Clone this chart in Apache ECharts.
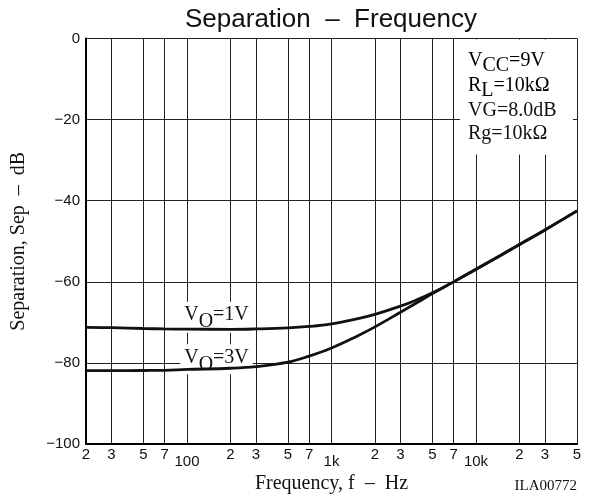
<!DOCTYPE html>
<html>
<head>
<meta charset="utf-8">
<script src="https://cdn.jsdelivr.net/npm/echarts@6/dist/echarts.min.js"></script>
<style>html,body{margin:0;padding:0;background:#fff}#c{width:591px;height:499px}</style>
</head>
<body>
<div id="c"></div>
<script>
// ---- data ----
const freqHz = [20, 30, 50, 70, 100, 200, 300, 500, 700, 1000, 1500, 2000, 3000, 4000, 5000, 7000, 10000, 20000, 30000, 50000];
const sepVo1V = [-71.2, -71.3, -71.5, -71.6, -71.65, -71.7, -71.6, -71.35, -71.0, -70.35, -69.1, -68.0, -66.0, -64.25, -62.7, -60.0, -56.9, -50.8, -47.2, -42.5];
const sepVo3V = [-81.9, -81.9, -81.85, -81.8, -81.6, -81.3, -80.9, -79.8, -78.3, -76.3, -73.4, -71.1, -67.5, -64.9, -62.9, -60.0, -56.9, -50.8, -47.2, -42.5];
const xTickHz = [20, 30, 50, 70, 100, 200, 300, 500, 700, 1000, 2000, 3000, 5000, 7000, 10000, 20000, 30000, 50000];
const xTickText = ['2', '3', '5', '7', '100', '2', '3', '5', '7', '1k', '2', '3', '5', '7', '10k', '2', '3', '5'];
const decadeTicks = [100, 1000, 10000];
const yMin = -100, yMax = 0, yStep = 20;
const labelVo1V = { hz: 160, db: -68.7 };
const labelVo3V = { hz: 160, db: -79.1 };

const lg = v => Math.log10(v);
const toXY = (fs, ys) => fs.map((f, i) => [lg(f), ys[i]]);
const tickLog = xTickHz.map(lg);

const serif = 'Liberation Serif';
const sans = 'Liberation Sans';
const ink = '#111';

const voRich = {
  n: { fontFamily: serif, fontSize: 20, color: ink, verticalAlign: 'top' },
  s: { fontFamily: serif, fontSize: 20, color: ink, verticalAlign: 'top', padding: [7, 0, 0, 0] }
};
const boxRich = {
  n: { fontFamily: serif, fontSize: 20, color: ink, verticalAlign: 'top' },
  s: { fontFamily: serif, fontSize: 20, color: ink, verticalAlign: 'top', padding: [5, 0, 0, 0] }
};

const chart = echarts.init(document.getElementById('c'), null, { renderer: 'canvas' });
chart.setOption({
  animation: false,
  backgroundColor: '#fff',
  title: {
    text: 'Separation  \u2013  Frequency',
    left: 185, top: 7, padding: 0,
    textStyle: { fontFamily: sans, fontSize: 26, fontWeight: 'normal', color: ink }
  },
  grid: { left: 86, right: 14, top: 38.5, bottom: 52.3, containLabel: false },
  xAxis: {
    type: 'value',
    min: lg(20), max: lg(50000),
    name: 'Frequency, f  \u2013  Hz',
    nameLocation: 'middle', nameGap: 27,
    nameTextStyle: { fontFamily: serif, fontSize: 20, color: ink },
    axisLine: { show: true, onZero: false, lineStyle: { color: '#000', width: 2 } },
    axisTick: { show: false, customValues: tickLog },
    axisLabel: {
      customValues: tickLog,
      margin: 3,
      fontFamily: sans, fontSize: 15, color: ink,
      formatter: function (v) {
        let best = 0, bd = 1e9;
        for (let i = 0; i < xTickHz.length; i++) {
          const d = Math.abs(lg(xTickHz[i]) - v);
          if (d < bd) { bd = d; best = i; }
        }
        const t = xTickText[best];
        return decadeTicks.indexOf(xTickHz[best]) >= 0 ? '{d|' + t + '}' : t;
      },
      rich: { d: { fontFamily: sans, fontSize: 15, color: ink, padding: [7, 0, 0, 0] } }
    },
    splitLine: { show: true, lineStyle: { color: '#222', width: 1 } }
  },
  yAxis: {
    type: 'value',
    min: yMin, max: yMax, interval: yStep,
    name: 'Separation, Sep  \u2013  dB',
    nameLocation: 'middle', nameGap: 57, nameRotate: 90,
    nameTextStyle: { fontFamily: serif, fontSize: 20, color: ink },
    axisLine: { show: true, lineStyle: { color: '#000', width: 2 } },
    axisTick: { show: false },
    axisLabel: {
      margin: 6, fontFamily: sans, fontSize: 15, color: ink,
      formatter: v => String(v).replace('-', '\u2212')
    },
    splitLine: { show: true, lineStyle: { color: '#222', width: 1 } }
  },
  graphic: [
    { type: 'rect', z: 10, shape: { x: 460, y: 39.5, width: 113, height: 115 }, style: { fill: '#fff' } },
    { type: 'text', z: 11, style: { x: 468, y: 51, text: '{n|V}{s|CC}{n|=9V}', verticalAlign: 'top', rich: boxRich } },
    { type: 'text', z: 11, style: { x: 468, y: 75.5, text: '{n|R}{s|L}{n|=10k\u03A9}', verticalAlign: 'top', rich: boxRich } },
    { type: 'text', z: 11, style: { x: 468, y: 100.5, text: 'VG=8.0dB', verticalAlign: 'top', font: '20px "Liberation Serif"', fill: ink } },
    { type: 'text', z: 11, style: { x: 468, y: 124, text: 'Rg=10k\u03A9', verticalAlign: 'top', font: '20px "Liberation Serif"', fill: ink } },
    { type: 'text', z: 11, style: { x: 577, y: 486, text: 'ILA00772', align: 'right', verticalAlign: 'middle', font: '15px "Liberation Serif"', fill: ink } }
  ],
  series: [
    {
      type: 'scatter', z: 2, symbolSize: 1, itemStyle: { color: '#fff', opacity: 1 },
      data: [[lg(labelVo1V.hz), labelVo1V.db]],
      label: { show: true, position: 'inside', color: ink, opacity: 1, formatter: '{n|V}{s|O}{n|=1V}', backgroundColor: '#fff', padding: [3, 4, 1, 4], rich: voRich }
    },
    {
      type: 'scatter', z: 2, symbolSize: 1, itemStyle: { color: '#fff', opacity: 1 },
      data: [[lg(labelVo3V.hz), labelVo3V.db]],
      label: { show: true, position: 'inside', color: ink, opacity: 1, formatter: '{n|V}{s|O}{n|=3V}', backgroundColor: '#fff', padding: [3, 4, 0, 4], rich: voRich }
    },
    {
      name: 'VO=1V', type: 'line', z: 5, smooth: 0.4, symbol: 'none',
      lineStyle: { color: ink, width: 2.8 },
      data: toXY(freqHz, sepVo1V)
    },
    {
      name: 'VO=3V', type: 'line', z: 5, smooth: 0.4, symbol: 'none',
      lineStyle: { color: ink, width: 2.8 },
      data: toXY(freqHz, sepVo3V)
    }
  ]
});
</script>
</body>
</html>
